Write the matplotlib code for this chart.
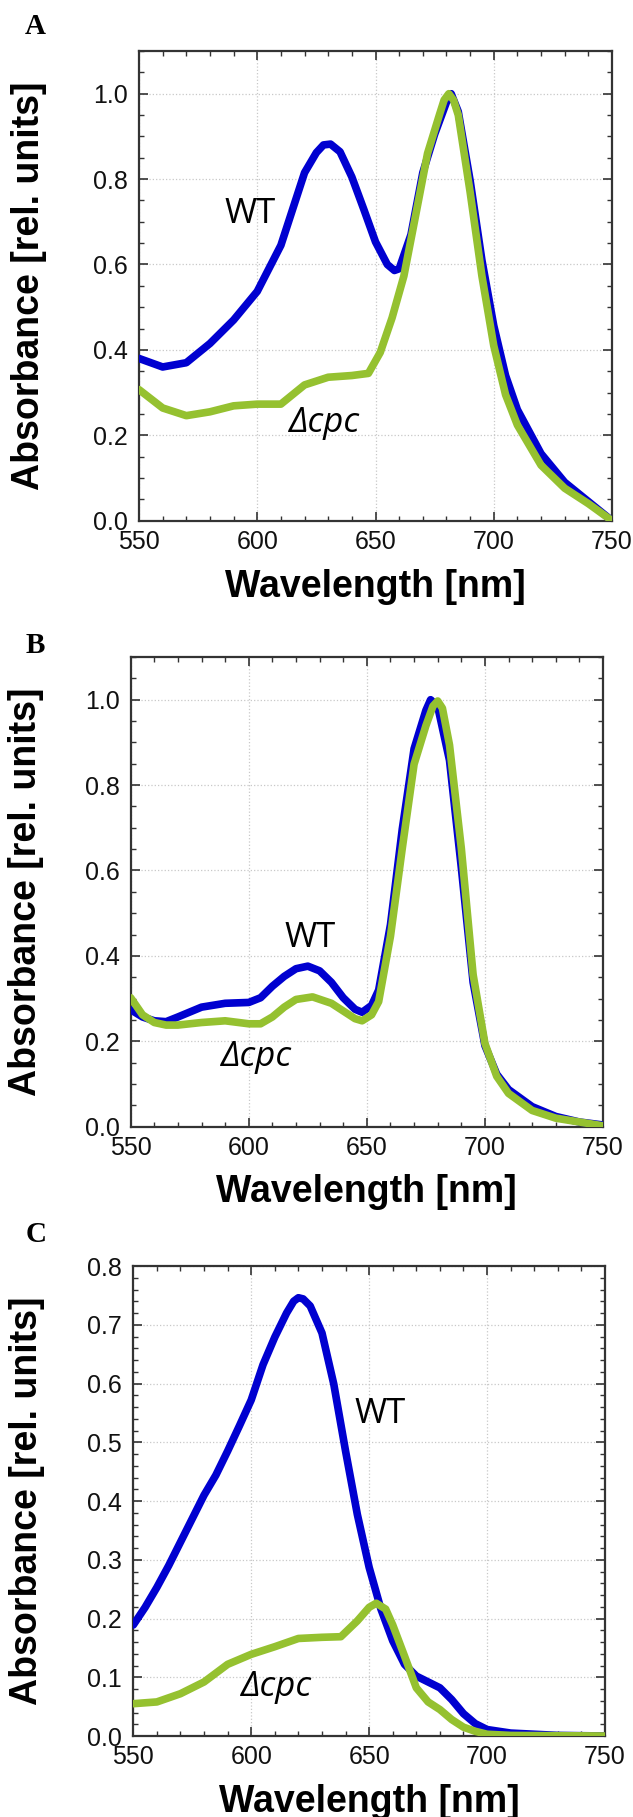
import matplotlib
matplotlib.use("Agg")
import matplotlib.pyplot as plt
from matplotlib.ticker import MultipleLocator

# panel A
a_wl_wt = [550, 560, 570, 580, 590, 600, 610, 620, 625, 628, 631, 635, 640, 645, 650, 655, 658, 660,
           665, 670, 675, 680, 682, 685, 690, 695, 700, 705, 710, 720, 730, 740, 750]
a_wt = [0.38, 0.36, 0.37, 0.415, 0.47, 0.537, 0.645, 0.815, 0.862, 0.88, 0.882, 0.864, 0.805, 0.73,
        0.653, 0.60, 0.586, 0.59, 0.67, 0.815, 0.905, 0.98, 1.0, 0.958, 0.797, 0.61, 0.457, 0.34,
        0.26, 0.157, 0.09, 0.045, 0.0]
a_wl_cpc = [550, 560, 570, 580, 590, 600, 610, 620, 630, 640, 647, 652, 657, 662, 667, 672, 677,
            679, 681, 683, 685, 690, 695, 700, 705, 710, 720, 730, 740, 750]
a_cpc = [0.307, 0.264, 0.246, 0.255, 0.269, 0.273, 0.273, 0.318, 0.336, 0.34, 0.345, 0.394, 0.475,
         0.573, 0.716, 0.86, 0.95, 0.985, 1.0, 0.985, 0.95, 0.77, 0.573, 0.41, 0.295, 0.224, 0.13,
         0.076, 0.04, 0.0]

# panel B
b_wl_wt = [550, 555, 560, 565, 570, 580, 590, 600, 605, 610, 615, 620, 625, 630, 635, 640, 645, 648,
           652, 655, 660, 665, 670, 675, 677, 680, 685, 690, 695, 700, 705, 710, 720, 730, 740, 750]
b_wt = [0.274, 0.257, 0.248, 0.246, 0.257, 0.28, 0.289, 0.291, 0.302, 0.329, 0.352, 0.37, 0.376,
        0.365, 0.338, 0.302, 0.275, 0.268, 0.284, 0.32, 0.473, 0.697, 0.885, 0.975, 1.0, 0.984,
        0.858, 0.607, 0.338, 0.19, 0.123, 0.087, 0.047, 0.024, 0.011, 0.004]
b_wl_cpc = [550, 555, 560, 565, 570, 580, 590, 600, 605, 610, 615, 620, 627, 635, 640, 645, 648, 652,
            655, 660, 665, 670, 675, 678, 680, 682, 685, 690, 695, 700, 705, 710, 720, 730, 740, 750]
b_cpc = [0.302, 0.262, 0.244, 0.238, 0.238, 0.244, 0.248, 0.241, 0.241, 0.257, 0.28, 0.298, 0.304,
         0.289, 0.271, 0.253, 0.248, 0.262, 0.293, 0.446, 0.652, 0.849, 0.939, 0.985, 0.997, 0.98,
         0.894, 0.652, 0.356, 0.195, 0.118, 0.078, 0.038, 0.02, 0.011, 0.002]

# panel C
c_wl_wt = [550, 555, 560, 565, 570, 575, 580, 585, 590, 595, 600, 605, 610, 615, 618, 620, 622, 625,
           630, 635, 640, 645, 650, 655, 660, 665, 670, 675, 680, 685, 690, 695, 700, 710, 720, 730, 750]
c_wt = [0.189, 0.219, 0.253, 0.29, 0.33, 0.37, 0.41, 0.444, 0.485, 0.528, 0.572, 0.632, 0.679, 0.72,
        0.74, 0.746, 0.744, 0.732, 0.686, 0.599, 0.485, 0.377, 0.287, 0.216, 0.162, 0.122, 0.102,
        0.092, 0.082, 0.062, 0.038, 0.021, 0.011, 0.005, 0.003, 0.001, 0.0]
c_wl_cpc = [550, 560, 570, 580, 590, 600, 610, 620, 630, 638, 645, 650, 653, 657, 660, 665, 670, 675,
            680, 685, 690, 695, 700, 710, 750]
c_cpc = [0.055, 0.058, 0.072, 0.092, 0.122, 0.139, 0.152, 0.166, 0.168, 0.169, 0.196, 0.219, 0.226,
         0.216, 0.189, 0.136, 0.082, 0.058, 0.045, 0.028, 0.015, 0.008, 0.003, 0.001, 0.0]

letters = ["A", "B", "C"]
ylims = [1.1, 1.1, 0.8]
ymajor = [0.2, 0.2, 0.1]
yminor = [0.05, 0.05, 0.02]
wt_pos = [(586, 0.698), (615.2, 0.422), (643.8, 0.532)]
cpc_pos = [(613.4, 0.208), (588.3, 0.143), (595.8, 0.068)]

W, H = 633, 1817
fig = plt.figure(figsize=(W / 100, H / 100), dpi=100)
plt.rcParams["font.family"] = ["Liberation Sans", "DejaVu Sans"]

# axes boxes in pixels: left, top, right, bottom
boxes = [(139, 51, 612, 520.7), (130.7, 657, 603, 1126.7), (133.3, 1266, 605, 1736)]
ylab_x = [29, 26, 27]
letter_xy = [(25, 34), (26, 653), (26, 1242)]
xlab_base = [597, 1202, 1812]

blue = "#0000D0"
green = "#95C130"

data = [(a_wl_wt, a_wt, a_wl_cpc, a_cpc), (b_wl_wt, b_wt, b_wl_cpc, b_cpc),
        (c_wl_wt, c_wt, c_wl_cpc, c_cpc)]

for i in range(3):
    l, t, r, b = boxes[i]
    ax = fig.add_axes([l / W, 1 - b / H, (r - l) / W, (b - t) / H])
    wx, wy, cx, cy = data[i]
    ax.plot(wx, wy, color=blue, lw=5.5, solid_joinstyle="round", solid_capstyle="round", zorder=3)
    ax.plot(cx, cy, color=green, lw=5.5, solid_joinstyle="round", solid_capstyle="round", zorder=4)
    ax.set_xlim(550, 750)
    ax.set_ylim(0, ylims[i])
    ax.xaxis.set_major_locator(MultipleLocator(50))
    ax.xaxis.set_minor_locator(MultipleLocator(10))
    ax.yaxis.set_major_locator(MultipleLocator(ymajor[i]))
    ax.yaxis.set_minor_locator(MultipleLocator(yminor[i]))
    ax.yaxis.set_major_formatter(lambda v, p: f"{v:.1f}")
    ax.tick_params(which="both", direction="in", top=True, right=True, colors="#333333",
                   labelcolor="#111111", labelsize=18)
    ax.tick_params(which="major", length=6.5, width=1.2)
    ax.tick_params(which="minor", length=3.5, width=1.0)
    ax.tick_params(axis="x", pad=6.5)
    ax.tick_params(axis="y", pad=8)
    for s in ax.spines.values():
        s.set_linewidth(1.6)
        s.set_color("#333333")
    ax.grid(True, which="major", color="#c8c8c8", linestyle=":", linewidth=0.9)

    ax.text(wt_pos[i][0], wt_pos[i][1], "WT", family=["Open Sans", "DejaVu Sans"],
            fontsize=25, ha="left", va="baseline", zorder=5)
    ax.text(cpc_pos[i][0], cpc_pos[i][1], "Δcpc", family=["Open Sans", "DejaVu Sans"],
            style="italic", fontsize=25, ha="left", va="baseline", zorder=5)

    fig.text(ylab_x[i] / W, 1 - ((t + b) / 2) / H, "Absorbance [rel. units]", rotation=90,
             ha="center", va="center", fontsize=27, fontweight="bold")
    fig.text(((l + r) / 2) / W, 1 - xlab_base[i] / H, "Wavelength [nm]", ha="center",
             va="baseline", fontsize=27, fontweight="bold")
    fig.text(letter_xy[i][0] / W, 1 - letter_xy[i][1] / H, letters[i],
             family="Liberation Serif", fontweight="bold", fontsize=21, ha="left", va="baseline")

fig.savefig("out.png", dpi=100)
